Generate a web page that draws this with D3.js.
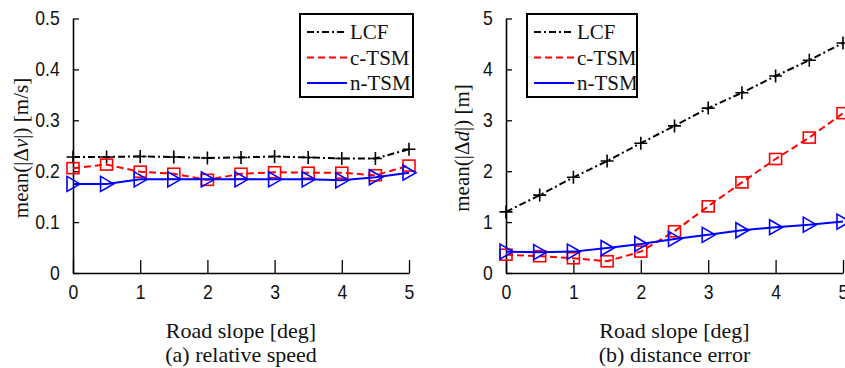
<!DOCTYPE html>
<html>
<head>
<meta charset="utf-8">
<script src="https://cdn.jsdelivr.net/npm/d3@7"></script>
<style>
  body { margin: 0; background: #fff; }
  svg { display: block; }
</style>
</head>
<body>
<div id="chart"></div>
<script>
// road slope on the x axis
const slopes = [0, 0.5, 1, 1.5, 2, 2.5, 3, 3.5, 4, 4.5, 5];
const slopeTicks = [0, 1, 2, 3, 4, 5];

// (a) relative speed, mean(|dv|) [m/s]
const speedLCF  = [0.228, 0.228, 0.229, 0.228, 0.226, 0.227, 0.229, 0.227, 0.225, 0.225, 0.243];
const speedCTSM = [0.206, 0.213, 0.199, 0.195, 0.183, 0.195, 0.198, 0.197, 0.197, 0.192, 0.211];
const speedNTSM = [0.175, 0.175, 0.184, 0.184, 0.184, 0.184, 0.184, 0.184, 0.182, 0.188, 0.197];
const speedTicks = [0, 0.1, 0.2, 0.3, 0.4, 0.5];

// (b) distance error, mean(|dd|) [m]
const distLCF  = [1.20, 1.53, 1.88, 2.20, 2.55, 2.89, 3.24, 3.54, 3.87, 4.18, 4.52];
const distCTSM = [0.36, 0.33, 0.29, 0.23, 0.42, 0.82, 1.31, 1.78, 2.24, 2.66, 3.14];
const distNTSM = [0.42, 0.41, 0.42, 0.49, 0.57, 0.67, 0.75, 0.84, 0.90, 0.95, 1.01];
const distTicks = [0, 1, 2, 3, 4, 5];

const seriesNames = ["LCF", "c-TSM", "n-TSM"];
const seriesColors = ["#000000", "#ff0000", "#0000ff"];
const seriesDash = ["7,3,2,3", "7,4", null];
const seriesMarker = ["plus", "square", "triangle"];

const svgWidth = 845, svgHeight = 368;

const svg = d3.select("#chart").append("svg")
    .attr("width", svgWidth)
    .attr("height", svgHeight);

const drawMarker = function(g, type, color) {
    if (type === "plus") {
        g.append("path").attr("d", "M-6.5,0H6.5M0,-6.5V6.5")
         .attr("stroke", color).attr("stroke-width", 1.6).attr("fill", "none");
    } else if (type === "square") {
        g.append("rect").attr("x", -6).attr("y", -5.5).attr("width", 12).attr("height", 11)
         .attr("stroke", color).attr("stroke-width", 1.6).attr("fill", "none");
    } else {
        g.append("path").attr("d", "M-6,-7.5L7,0L-6,7.5Z")
         .attr("stroke", color).attr("stroke-width", 1.6).attr("fill", "none");
    }
};

const serifText = function(sel, size) {
    return sel.append("text")
        .attr("font-family", "Liberation Serif")
        .attr("font-size", size)
        .attr("fill", "#111");
};

const drawPanel = function(opts) {
    const xScale = d3.scaleLinear().domain([0, 5]).range([opts.left, opts.right]);
    const yScale = d3.scaleLinear().domain(opts.yDomain).range([273, 18.5]);

    const panel = svg.append("g");

    const xAxis = d3.axisBottom(xScale).tickValues(slopeTicks)
        .tickSizeInner(-13).tickSizeOuter(0).tickPadding(12).tickFormat(d => String(d));
    const yAxis = d3.axisLeft(yScale).tickValues(opts.yTicks)
        .tickSizeInner(-6).tickSizeOuter(0).tickPadding(13).tickFormat(d => String(d));

    const xg = panel.append("g").attr("transform", `translate(0,${yScale(0)})`).call(xAxis);
    const yg = panel.append("g").attr("transform", `translate(${xScale(0)},0)`).call(yAxis);

    [xg, yg].forEach(function(ag) {
        ag.attr("font-family", "Liberation Sans").attr("font-size", 20);
        ag.select(".domain").attr("stroke", "#000").attr("stroke-width", 1.6);
        ag.selectAll(".tick line").attr("stroke", "#000").attr("stroke-width", 1.3);
        ag.selectAll(".tick text")
          .attr("font-family", "Liberation Sans")
          .attr("font-size", 20)
          .attr("fill", "#111")
          .attr("transform", "scale(0.88,1)");
    });
    yg.selectAll(".tick text").attr("x", -15);

    opts.series.forEach(function(vals, i) {
        const line = d3.line()
            .x((d, j) => xScale(slopes[j]))
            .y(d => yScale(d));
        panel.append("path")
            .datum(vals)
            .attr("d", line)
            .attr("fill", "none")
            .attr("stroke", seriesColors[i])
            .attr("stroke-width", 2)
            .attr("stroke-dasharray", seriesDash[i]);
        vals.forEach(function(v, j) {
            const mg = panel.append("g")
                .attr("transform", `translate(${xScale(slopes[j])},${yScale(v)})`);
            drawMarker(mg, seriesMarker[i], seriesColors[i]);
        });
    });

    // y axis title
    const yt = serifText(panel, 21)
        .attr("transform", `translate(${opts.yLabelX},148) rotate(-90)`)
        .attr("text-anchor", "middle");
    yt.append("tspan").text("mean(|Δ");
    yt.append("tspan").attr("font-style", "italic").text(opts.yVar);
    yt.append("tspan").text(opts.yUnit);

    const midX = (opts.left + opts.right) / 2;
    serifText(panel, 22)
        .attr("x", midX).attr("y", 338)
        .attr("text-anchor", "middle")
        .text("Road slope [deg]");
    serifText(panel, 22)
        .attr("x", midX).attr("y", 362)
        .attr("text-anchor", "middle")
        .text(opts.caption);

    // legend
    const lg = panel.append("g").attr("transform", `translate(${opts.legendX},14)`);
    lg.append("rect").attr("x", 0).attr("y", 0)
        .attr("width", opts.legendW).attr("height", 83)
        .attr("fill", "#fff").attr("stroke", "#000").attr("stroke-width", 2);
    seriesNames.forEach(function(name, i) {
        const ry = 18 + i * 25.5;
        lg.append("line")
            .attr("x1", 7).attr("x2", 47).attr("y1", ry).attr("y2", ry)
            .attr("stroke", seriesColors[i]).attr("stroke-width", 2)
            .attr("stroke-dasharray", seriesDash[i]);
        serifText(lg, 21)
            .attr("x", 50).attr("y", ry + 7)
            .text(name);
    });
};

drawPanel({
    left: 73, right: 409,
    yDomain: [0, 0.5], yTicks: speedTicks,
    series: [speedLCF, speedCTSM, speedNTSM],
    yVar: "v", yUnit: "|) [m/s]", yLabelX: 28,
    caption: "(a) relative speed",
    legendX: 300, legendW: 113
});

drawPanel({
    left: 506, right: 843,
    yDomain: [0, 5], yTicks: distTicks,
    series: [distLCF, distCTSM, distNTSM],
    yVar: "d", yUnit: "|) [m]", yLabelX: 469,
    caption: "(b) distance error",
    legendX: 527, legendW: 110
});
</script>
</body>
</html>
